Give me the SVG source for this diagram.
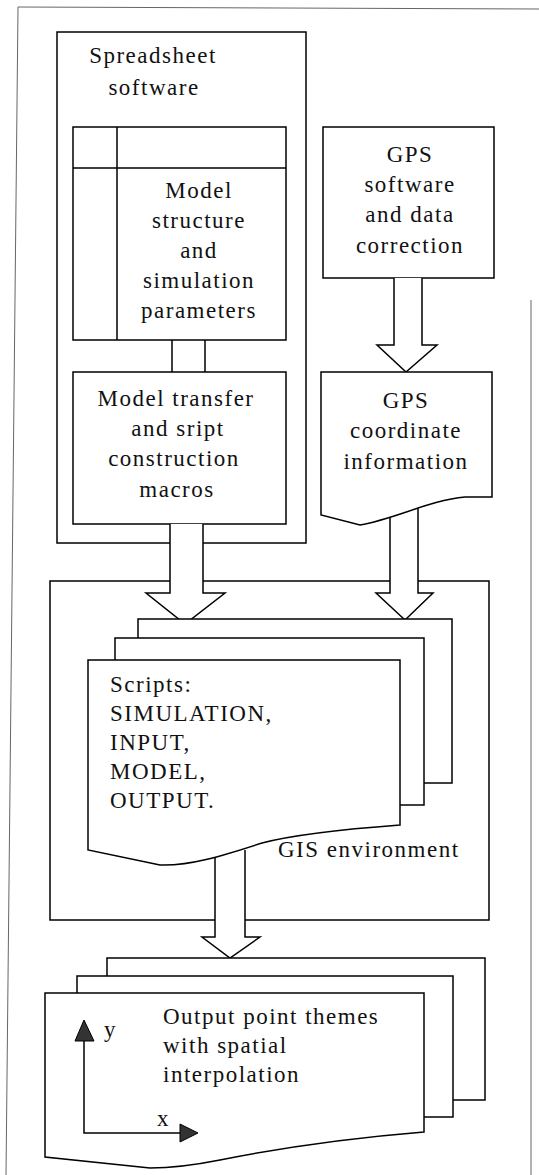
<svg xmlns="http://www.w3.org/2000/svg" width="539" height="1175" viewBox="0 0 539 1175">
<style>
.box{fill:#fff;stroke:#000;stroke-width:1.5}
.ln{fill:none;stroke:#000;stroke-width:1.5}
.frame{fill:none;stroke:#666;stroke-width:1}
.arrow{fill:#fff;stroke:#000;stroke-width:1.5;stroke-linejoin:miter}
.t{font-family:"Liberation Serif","Times New Roman",serif;font-size:23px;letter-spacing:1.5px;fill:#111}
.c{text-anchor:middle}
.tri{fill:#333;stroke:#000;stroke-width:1}
</style>
<rect width="539" height="1175" fill="#fff"/>
<g id="frame">
<path class="frame" d="M18,7 L539,9 M18,7 L6,1175 M531,300 L531,1175"/>
</g>
<g id="spreadsheet">
<rect class="box" x="57" y="32" width="249" height="511"/>
<text class="t c" x="153" y="63">Spreadsheet</text>
<text class="t c" x="154" y="95">software</text>
</g>
<g id="model-table">
<rect class="box" x="73" y="127" width="213" height="213"/>
<path class="ln" d="M73,168 H286 M117,127 V340"/>
<text class="t c" x="199" y="198">Model</text>
<text class="t c" x="199" y="228">structure</text>
<text class="t c" x="199" y="258">and</text>
<text class="t c" x="199" y="288">simulation</text>
<text class="t c" x="199" y="318">parameters</text>
</g>
<g id="model-transfer">
<rect class="box" x="73" y="372" width="213" height="152"/>
<text class="t c" x="176" y="406">Model transfer</text>
<text class="t c" x="178" y="436">and sript</text>
<text class="t c" x="174" y="466">construction</text>
<text class="t c" x="177" y="497">macros</text>
</g>
<g id="gps-software">
<rect class="box" x="323" y="127" width="171" height="151"/>
<text class="t c" x="410" y="162">GPS</text>
<text class="t c" x="410" y="192">software</text>
<text class="t c" x="410" y="222">and data</text>
<text class="t c" x="410" y="253">correction</text>
</g>
<g id="gis-environment">
<rect class="box" x="50" y="581" width="439" height="339"/>
<text class="t" x="278" y="857">GIS environment</text>
</g>
<g id="connectors">
<path class="ln" d="M172,340 V372 M205,340 V372"/>
<path class="arrow" d="M394,278 V345 H377 L406,372 L437,345 H422 V278"/>
<path class="arrow" d="M170,524 V593 H146 L185,624 L225,593 H203 V524"/>
<path class="arrow" d="M390,505 V593 H376 L405,620 L433,593 H418 V505"/>
<path class="arrow" d="M215,850 V937 H202 L230,958 L260,937 H245 V850"/>
</g>
<g id="gps-coordinate">
<path class="box" d="M321,372 H492 V497 H465 C430,500 395,519 360,525 L321,515 Z"/>
<text class="t c" x="406" y="408">GPS</text>
<text class="t c" x="406" y="438">coordinate</text>
<text class="t c" x="406" y="469">information</text>
</g>
<g id="scripts">
<rect class="box" x="138" y="619" width="314" height="164"/>
<rect class="box" x="115" y="638" width="309" height="167"/>
<path class="box" d="M88,660 H400 V825 C360,828 300,833 262,843 C222,856 190,866 160,865 L88,850 Z"/>
<text class="t" x="110" y="692">Scripts:</text>
<text class="t" x="110" y="721">SIMULATION,</text>
<text class="t" x="110" y="750">INPUT,</text>
<text class="t" x="110" y="779">MODEL,</text>
<text class="t" x="110" y="808">OUTPUT.</text>
</g>
<g id="output-themes">
<rect class="box" x="107" y="958" width="378" height="142"/>
<rect class="box" x="77" y="976" width="376" height="141"/>
<path class="box" d="M45,993 H424 V1132 C350,1138 280,1148 220,1160 C190,1166 170,1168 150,1168 L45,1157 Z"/>
<text class="t" x="163" y="1024">Output point themes</text>
<text class="t" x="163" y="1053">with spatial</text>
<text class="t" x="163" y="1082">interpolation</text>
<path class="ln" d="M84,1040 V1133 H180"/>
<polygon class="tri" points="84,1020 75,1041 94,1041"/>
<polygon class="tri" points="198,1133 180,1124 180,1142"/>
<text class="t" x="104" y="1037">y</text>
<text class="t" x="157" y="1126">x</text>
</g>
</svg>
